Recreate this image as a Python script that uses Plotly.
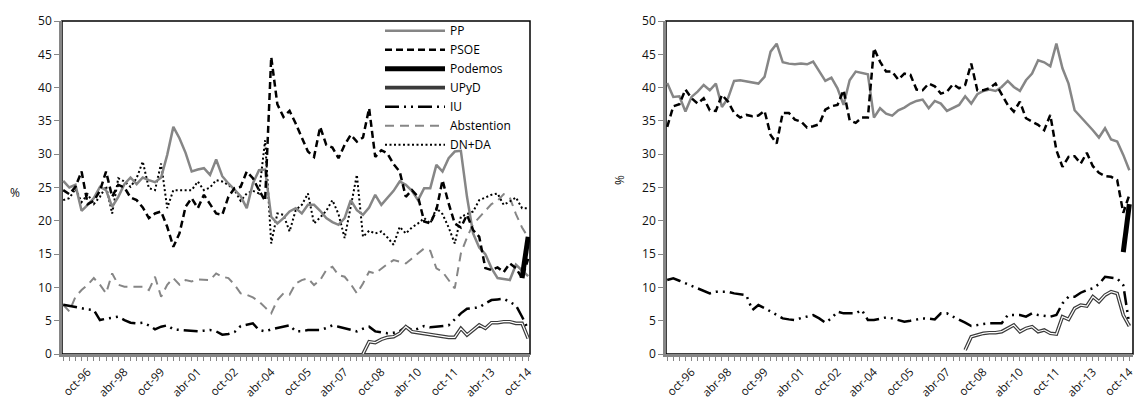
import plotly.graph_objects as go

quarters = [
    "oct-95",
    "ene-96", "abr-96", "jul-96", "oct-96",
    "ene-97", "abr-97", "jul-97", "oct-97",
    "ene-98", "abr-98", "jul-98", "oct-98",
    "ene-99", "abr-99", "jul-99", "oct-99",
    "ene-00", "abr-00", "jul-00", "oct-00",
    "ene-01", "abr-01", "jul-01", "oct-01",
    "ene-02", "abr-02", "jul-02", "oct-02",
    "ene-03", "abr-03", "jul-03", "oct-03",
    "ene-04", "abr-04", "jul-04", "oct-04",
    "ene-05", "abr-05", "jul-05", "oct-05",
    "ene-06", "abr-06", "jul-06", "oct-06",
    "ene-07", "abr-07", "jul-07", "oct-07",
    "ene-08", "abr-08", "jul-08", "oct-08",
    "ene-09", "abr-09", "jul-09", "oct-09",
    "ene-10", "abr-10", "jul-10", "oct-10",
    "ene-11", "abr-11", "jul-11", "oct-11",
    "ene-12", "abr-12", "jul-12", "oct-12",
    "ene-13", "abr-13", "jul-13", "oct-13",
    "ene-14", "abr-14", "jul-14", "oct-14",
]
tick_labels = ["oct-96", "abr-98", "oct-99", "abr-01", "oct-02", "abr-04", "oct-05",
               "abr-07", "oct-08", "abr-10", "oct-11", "abr-13", "oct-14"]

# ---- Left panel (direct vote intention) ----
pp_left = [26.0,
    25.0, 25.4, 21.5, 22.4, 23.4, 25.1, 24.6, 22.1, 23.6, 25.5, 26.5, 25.5,
    26.5, 26.1, 25.8, 26.5, 29.9, 34.1, 32.4, 30.2, 27.4, 27.7, 27.9, 26.9,
    29.2, 26.7, 25.6, 24.7, 23.7, 21.9, 25.6, 27.6, 27.7, 20.6, 19.6, 20.4,
    21.4, 21.9, 21.1, 22.4, 22.4, 21.5, 20.4, 19.8, 19.4, 20.4, 23.1, 21.6,
    20.9, 22.0, 23.9, 22.4, 23.5, 24.5, 25.9, 25.4, 24.5, 23.1, 24.9, 24.9,
    28.4, 27.4, 29.4, 30.4, 30.5, 23.6, 18.1, 16.0, 15.0, 12.9, 11.4, 11.2,
    11.1, 13.4, 12.5, 11.7]
psoe_left = [24.6,
    24.0, 25.1, 27.4, 22.5, 23.0, 24.5, 27.4, 23.6, 25.4, 25.0, 23.5, 23.1,
    22.0, 20.4, 21.1, 21.4, 19.1, 16.1, 18.1, 22.1, 23.4, 21.9, 23.9, 22.5,
    21.1, 20.9, 23.6, 24.9, 25.1, 27.4, 26.4, 24.6, 23.0, 44.6, 37.5, 35.6,
    36.5, 34.6, 32.6, 30.4, 29.6, 34.1, 31.4, 31.0, 29.4, 31.4, 32.9, 31.9,
    32.5, 36.9, 29.6, 30.6, 30.1, 28.5, 27.4, 23.6, 24.6, 23.6, 19.9, 19.6,
    21.6, 26.1, 22.6, 19.6, 19.0, 20.9, 18.6, 17.6, 12.9, 12.6, 13.0, 12.3,
    13.6, 12.9, 11.4, 14.3]
podemos_left = [None] * 75 + [11.4, 17.6]
upyd_left = [None] * 49 + [
    0.0, 1.85, 1.7, 2.2, 2.5, 2.6, 3.1, 4.1, 3.35, 3.2, 3.1, 2.9,
    2.7, 2.6, 2.5, 2.5, 3.85, 2.85, 3.6, 4.35, 3.85, 4.7, 4.7, 4.85,
    4.85, 4.6, 4.6, 2.35]
iu_left = [7.4,
    7.2, 7.1, 6.9, 6.7, 6.6, 5.1, 5.3, 5.4, 5.6, 5.1, 4.7, 4.6,
    4.7, 4.3, 3.7, 4.1, 4.3, 3.7, 3.6, 3.5, 3.4, 3.4, 3.5, 3.6,
    3.4, 2.9, 3.0, 3.3, 4.2, 4.4, 4.6, 3.6, 3.4, 3.7, 3.9, 4.1,
    4.3, 3.4, 3.4, 3.6, 3.6, 3.6, 3.9, 4.3, 4.1, 3.9, 3.6, 3.4,
    3.8, 4.1, 3.4, 3.3, 3.1, 3.2, 3.4, 4.1, 3.6, 3.8, 4.2, 4.0,
    4.1, 4.2, 4.3, 5.2, 6.1, 6.8, 6.9, 7.0, 7.6, 8.1, 8.2, 8.3,
    7.8, 7.3, 5.6, 3.7]
abstention_left = [7.4,
    6.4, 8.6, 9.6, 10.4, 11.4, 10.4, 9.1, 12.1, 10.4, 10.1, 10.1, 10.1,
    10.1, 9.6, 11.6, 8.6, 10.4, 11.4, 10.4, 11.1, 10.9, 11.2, 11.1, 11.1,
    12.1, 11.6, 11.4, 10.4, 9.1, 8.9, 8.5, 7.9, 7.0, 6.1, 8.1, 9.1,
    8.9, 10.6, 11.1, 11.35, 10.35, 11.1, 12.6, 13.1, 11.85, 11.6, 10.5, 9.1,
    10.6, 12.35, 12.1, 12.85, 13.5, 14.1, 13.9, 13.6, 14.35, 15.1, 15.85, 15.5,
    12.85, 12.35, 11.1, 9.85, 15.1, 17.5, 19.5, 20.5, 21.5, 22.5, 23.0, 24.0,
    23.5, 21.0, 19.0, 17.5]
dnda_left = [23.1,
    23.4, 24.8, 22.8, 24.0, 22.5, 23.6, 25.2, 21.1, 26.4, 25.9, 25.1, 26.4,
    28.9, 24.9, 24.6, 28.6, 21.9, 24.6, 24.6, 24.6, 24.6, 25.9, 24.6, 25.0,
    26.1, 25.9, 25.4, 24.6, 23.0, 24.1, 24.5, 24.1, 32.1, 16.6, 21.1, 20.9,
    18.4, 21.6, 22.4, 24.1, 19.6, 20.5, 21.5, 23.1, 21.0, 17.4, 22.0, 26.9,
    17.6, 18.5, 18.1, 18.4, 17.5, 16.4, 19.1, 18.1, 19.0, 19.6, 20.4, 19.6,
    21.9, 21.0, 19.0, 16.6, 20.6, 21.0, 21.4, 23.1, 23.5, 23.9, 24.1, 22.4,
    22.9, 23.5, 21.9, 21.9]

# ---- Right panel (vote estimate) ----
pp_right = [40.7,
    38.6, 38.7, 36.4, 38.6, 39.4, 40.4, 39.6, 40.6, 37.1, 38.4, 41.0, 41.1,
    40.9, 40.7, 40.6, 41.6, 45.4, 46.6, 43.8, 43.6, 43.5, 43.6, 43.5, 43.9,
    42.4, 41.0, 41.5, 39.9, 37.4, 41.1, 42.4, 42.2, 42.0, 35.5, 36.9, 36.1,
    35.8, 36.6, 37.0, 37.6, 38.0, 38.2, 36.9, 38.0, 37.6, 36.5, 37.0, 37.4,
    38.7, 37.6, 39.0, 39.5, 39.7, 39.5, 40.1, 41.0, 40.1, 39.5, 41.1, 42.1,
    44.1, 43.8, 43.2, 46.6, 42.9, 40.6, 36.6, 35.6, 34.7, 33.6, 32.5, 33.9,
    32.2, 31.9, 29.9, 27.6]
psoe_right = [34.1,
    37.2, 37.5, 39.7, 38.4, 37.6, 38.4, 36.6, 36.5, 38.9, 37.9, 36.2, 35.5,
    35.9, 35.7, 35.8, 36.5, 32.9, 31.6, 36.2, 36.2, 35.2, 34.9, 34.0, 34.2,
    34.5, 36.7, 37.2, 37.4, 39.6, 35.1, 34.7, 35.5, 35.5, 45.9, 43.9, 42.4,
    42.4, 41.2, 42.1, 41.9, 39.7, 39.6, 40.6, 40.2, 39.1, 39.4, 40.5, 39.9,
    40.4, 43.6, 39.6, 39.6, 39.9, 40.6, 38.9, 37.4, 36.4, 37.9, 35.4, 34.9,
    34.4, 33.6, 35.9, 30.6, 28.1, 29.6, 29.7, 28.6, 30.2, 28.2, 27.2, 26.7,
    26.6, 26.1, 21.2, 23.9]
podemos_right = [None] * 75 + [15.3, 22.5]
upyd_right = [None] * 49 + [
    0.6, 2.6, 2.85, 3.1, 3.2, 3.2, 3.35, 3.85, 4.35, 3.35, 3.85, 4.1,
    3.35, 3.6, 3.1, 3.0, 5.6, 5.2, 6.85, 7.35, 7.2, 8.6, 7.85, 8.85,
    9.35, 9.1, 5.85, 4.2]
iu_right = [11.1,
    11.35, 11.0, 10.6, 10.2, 9.85, 9.5, 9.1, 9.35, 9.3, 9.35, 9.1, 9.0,
    8.85, 6.6, 7.35, 6.9, 6.35, 5.85, 5.35, 5.2, 5.1, 5.4, 5.6, 5.85,
    5.35, 4.7, 5.35, 6.35, 6.1, 6.1, 6.1, 6.6, 5.1, 5.1, 5.3, 5.5,
    5.35, 5.1, 4.85, 5.0, 5.2, 5.35, 5.3, 5.2, 6.1, 6.1, 5.6, 5.2,
    4.7, 4.2, 4.4, 4.5, 4.6, 4.6, 4.6, 5.85, 5.85, 5.85, 5.6, 6.1,
    5.85, 5.7, 5.6, 5.85, 7.6, 8.6, 8.6, 9.2, 9.6, 9.85, 10.5, 11.6,
    11.45, 11.35, 10.35, 4.4]

GREY = "#868686"
FONT = "Open Sans"

styles = {
    "PP": dict(color=GREY, width=2.5),
    "PSOE": dict(color="black", width=2.5, dash="7px,4px"),
    "Podemos": dict(color="black", width=5),
    "UPyD": dict(color="#3a3a3a", width=3.6),
    "IU": dict(color="black", width=2.5, dash="14px,5px,2px,5px,2px,5px"),
    "Abstention": dict(color=GREY, width=2, dash="9px,6px"),
    "DN+DA": dict(color="black", width=2, dash="2px,2.5px"),
}

fig = go.Figure()

def add(name, y, xa, ya, show):
    fig.add_trace(go.Scatter(x=quarters, y=y, name=name, mode="lines",
                             line=styles[name], xaxis=xa, yaxis=ya,
                             showlegend=show, legendgroup=name,
                             connectgaps=False, hoverinfo="skip"))
    if name == "UPyD":
        fig.add_trace(go.Scatter(x=quarters, y=y, mode="lines",
                                 line=dict(color="white", width=1.2),
                                 xaxis=xa, yaxis=ya, showlegend=False,
                                 legendgroup=name, hoverinfo="skip"))

left_series = [("Abstention", abstention_left), ("DN+DA", dnda_left),
               ("IU", iu_left), ("UPyD", upyd_left), ("PP", pp_left),
               ("PSOE", psoe_left), ("Podemos", podemos_left)]
for n, y in left_series:
    add(n, y, "x", "y", True)

right_series = [("IU", iu_right), ("UPyD", upyd_right), ("PP", pp_right),
                ("PSOE", psoe_right), ("Podemos", podemos_right)]
for n, y in right_series:
    add(n, y, "x2", "y2", False)

W, H = 1136, 403
top = 1 - 21 / H
bot = 1 - 354 / H

def xaxis_style(rng):
    return dict(type="category", categoryorder="array", categoryarray=quarters,
                range=rng, automargin=False,
                tickmode="array", tickvals=quarters,
                ticktext=[q if q in tick_labels else "" for q in quarters],
                tickangle=-45, ticks="outside", ticklen=4, tickwidth=1.3,
                tickcolor=GREY, showline=True, linecolor=GREY, linewidth=2.5,
                showgrid=False, zeroline=False,
                tickfont=dict(family=FONT, size=11.5, color="#111"))

ycommon = dict(range=[0, 50], dtick=5, ticks="outside", ticklen=5, tickwidth=1.3,
               tickcolor=GREY, showline=True, linecolor=GREY, linewidth=2.5,
               showgrid=False, zeroline=False, automargin=False,
               tickfont=dict(family=FONT, size=12, color="#111"))

n = len(quarters)
fig.update_layout(
    width=W, height=H,
    margin=dict(l=0, r=0, t=0, b=0, autoexpand=False),
    paper_bgcolor="white", plot_bgcolor="white",
    xaxis=dict(domain=[62 / W, 530 / W], anchor="y", **xaxis_style([-0.2, n - 0.7])),
    yaxis=dict(domain=[bot, top], anchor="x", **ycommon),
    xaxis2=dict(domain=[666 / W, 1133 / W], anchor="y2", **xaxis_style([-0.2, n - 0.4])),
    yaxis2=dict(domain=[bot, top], anchor="x2", **ycommon),
    legend=dict(x=380 / W, y=top + 0.012, xanchor="left", yanchor="top",
                bgcolor="rgba(255,255,255,0)", traceorder="normal",
                font=dict(family=FONT, size=12, color="black"),
                itemwidth=60, tracegroupgap=0),
    showlegend=True,
)

order = ["PP", "PSOE", "Podemos", "UPyD", "IU", "Abstention", "DN+DA"]
for tr in fig.data:
    if tr.showlegend is not False and tr.name in order:
        tr.legendrank = order.index(tr.name)

for xa, ya in (("x", "y"), ("x2", "y2")):
    fig.add_shape(type="rect", xref=f"{xa} domain", yref=f"{ya} domain",
                  x0=0, x1=1, y0=0, y1=1, line=dict(color="black", width=1.5),
                  layer="below")

fig.add_annotation(text="%", x=15 / W, y=1 - 192 / H, xref="paper", yref="paper",
                   xanchor="center", yanchor="middle",
                   showarrow=False, font=dict(family=FONT, size=12, color="#111"))
fig.add_annotation(text="%", x=619 / W, y=1 - 180 / H, xref="paper", yref="paper",
                   xanchor="center", yanchor="middle",
                   showarrow=False, textangle=-90,
                   font=dict(family=FONT, size=12, color="#111"))

fig.write_html("out.html", config={"displayModeBar": False},
               post_script="document.body.style.margin='0';document.body.style.overflow='hidden';")
